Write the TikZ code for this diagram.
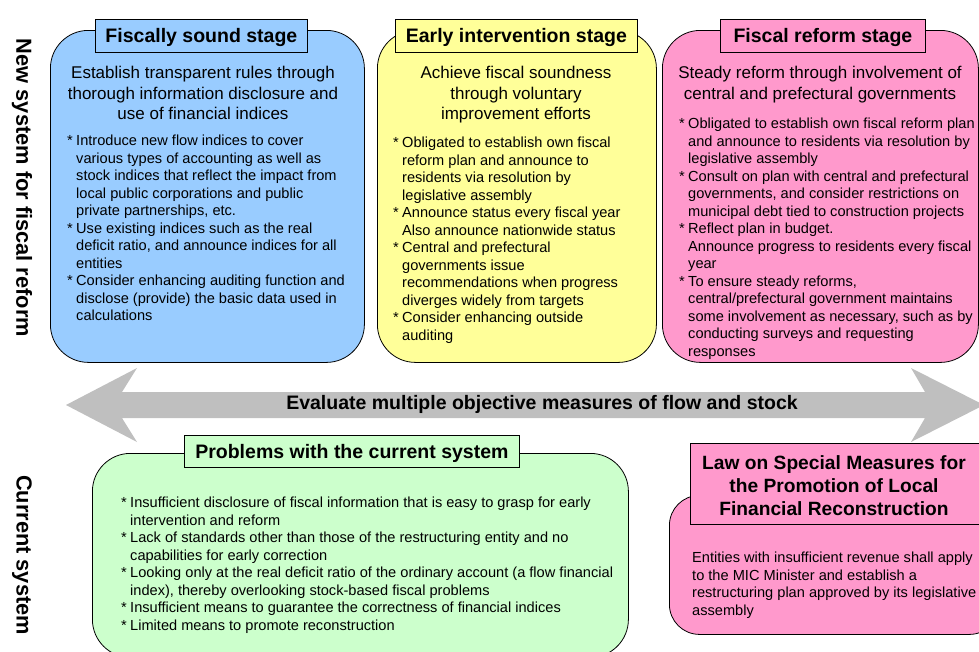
\documentclass[tikz,border=0pt]{standalone}
\usepackage{fontspec}
\setmainfont{Liberation Sans}
\definecolor{skyfill}{HTML}{99CCFF}
\definecolor{lemonfill}{HTML}{FFFF99}
\definecolor{rosefill}{HTML}{FF99CC}
\definecolor{mintfill}{HTML}{CCFFCC}
\newcommand{\bitem}{\makebox[9pt][l]{*}}
\newcommand{\bcont}{\hspace*{9pt}}

\begin{document}
\begin{tikzpicture}[x=1pt, y=-1pt,
    panel/.style={draw, line width=0.8pt, rounded corners=38pt, inner sep=0pt},
    tag/.style={draw, line width=0.8pt, inner sep=0pt, text depth=0pt, font=\bfseries\fontsize{19.5}{23}\selectfont},
    lead/.style={align=center, inner sep=0pt, anchor=north, font=\fontsize{17}{20.5}\selectfont},
    body/.style={align=left, inner sep=0pt, anchor=north west, font=\fontsize{14.6}{17.5}\selectfont},
    side/.style={rotate=-90, inner sep=0pt, font=\bfseries\fontsize{21.8}{24}\selectfont}]
  \useasboundingbox (0,0) rectangle (979,651);
  \clip (0,0) rectangle (979,651);

  % Side labels
  \node[side] (newsys) at (22,188) {New system for fiscal reform};
  \node[side] (cursys) at (22,555) {Current system};

  % Stage panels
  \node[panel, fill=skyfill, minimum width=314, minimum height=332, anchor=north west] (sound) at (50,30) {};
  \node[panel, fill=lemonfill, minimum width=279, minimum height=332, anchor=north west] (early) at (377,30) {};
  \node[panel, fill=rosefill, minimum width=316, minimum height=332, anchor=north west] (reform) at (662,30) {};

  \node[tag, fill=skyfill, minimum width=212, minimum height=33, anchor=north west] (soundtag) at (95,19) {Fiscally sound stage};
  \node[tag, fill=lemonfill, minimum width=242, minimum height=33, anchor=north west] (earlytag) at (395,19) {Early intervention stage};
  \node[tag, fill=rosefill, minimum width=205, minimum height=33, anchor=north west] (reformtag) at (720,19) {Fiscal reform stage};

  \node[lead] (soundlead) at (203,66) {Establish transparent rules through\\thorough information disclosure and\\use of financial indices};
  \node[lead] (earlylead) at (516,66) {Achieve fiscal soundness\\through voluntary\\improvement efforts};
  \node[lead] (reformlead) at (820,66) {Steady reform through involvement of\\central and prefectural governments};

  \node[body] (soundlist) at (67,135) {\bitem Introduce new flow indices to cover\\
    \bcont various types of accounting as well as\\
    \bcont stock indices that reflect the impact from\\
    \bcont local public corporations and public\\
    \bcont private partnerships, etc.\\
    \bitem Use existing indices such as the real\\
    \bcont deficit ratio, and announce indices for all\\
    \bcont entities\\
    \bitem Consider enhancing auditing function and\\
    \bcont disclose (provide) the basic data used in\\
    \bcont calculations};
  \node[body] (earlylist) at (393,137) {\bitem Obligated to establish own fiscal\\
    \bcont reform plan and announce to\\
    \bcont residents via resolution by\\
    \bcont legislative assembly\\
    \bitem Announce status every fiscal year\\
    \bcont Also announce nationwide status\\
    \bitem Central and prefectural\\
    \bcont governments issue\\
    \bcont recommendations when progress\\
    \bcont diverges widely from targets\\
    \bitem Consider enhancing outside\\
    \bcont auditing};
  \node[body] (reformlist) at (679,118) {\bitem Obligated to establish own fiscal reform plan\\
    \bcont and announce to residents via resolution by\\
    \bcont legislative assembly\\
    \bitem Consult on plan with central and prefectural\\
    \bcont governments, and consider restrictions on\\
    \bcont municipal debt tied to construction projects\\
    \bitem Reflect plan in budget.\\
    \bcont Announce progress to residents every fiscal\\
    \bcont year\\
    \bitem To ensure steady reforms,\\
    \bcont central/prefectural government maintains\\
    \bcont some involvement as necessary, such as by\\
    \bcont conducting surveys and requesting\\
    \bcont responses};

  % Double arrow across the middle
  \fill[black!25] (66,405) -- (137,368) -- (122,392) -- (925,392) -- (911,368) -- (984,405)
    -- (911,442) -- (925,418) -- (122,418) -- (137,442) -- cycle;
  \node[inner sep=0pt, font=\bfseries\fontsize{19.5}{22}\selectfont] (evaluate) at (542,404)
    {Evaluate multiple objective measures of flow and stock};

  % Current system
  \node[panel, fill=mintfill, minimum width=536, minimum height=204, anchor=north west] (problems) at (92,453) {};
  \node[tag, fill=mintfill, minimum width=335, minimum height=32, anchor=north west] (problemstag) at (184,435) {Problems with the current system};
  \node[body] (problemslist) at (121,497) {\bitem Insufficient disclosure of fiscal information that is easy to grasp for early\\
    \bcont intervention and reform\\
    \bitem Lack of standards other than those of the restructuring entity and no\\
    \bcont capabilities for early correction\\
    \bitem Looking only at the real deficit ratio of the ordinary account (a flow financial\\
    \bcont index), thereby overlooking stock-based fiscal problems\\
    \bitem Insufficient means to guarantee the correctness of financial indices\\
    \bitem Limited means to promote reconstruction};

  \node[panel, rounded corners=30pt, fill=rosefill, minimum width=330, minimum height=139, anchor=north west] (law) at (669,495) {};
  \node[tag, fill=rosefill, minimum width=310, minimum height=81, anchor=north west] (lawtag) at (690,443) {};
  \node[align=center, inner sep=0pt, font=\bfseries\fontsize{19.2}{23}\selectfont] (lawtitle) at (834,486)
    {Law on Special Measures for\\the Promotion of Local\\Financial Reconstruction};
  \node[body] (lawtext) at (692,552) {Entities with insufficient revenue shall apply\\
    to the MIC Minister and establish a\\
    restructuring plan approved by its legislative\\
    assembly};
\end{tikzpicture}
\end{document}
